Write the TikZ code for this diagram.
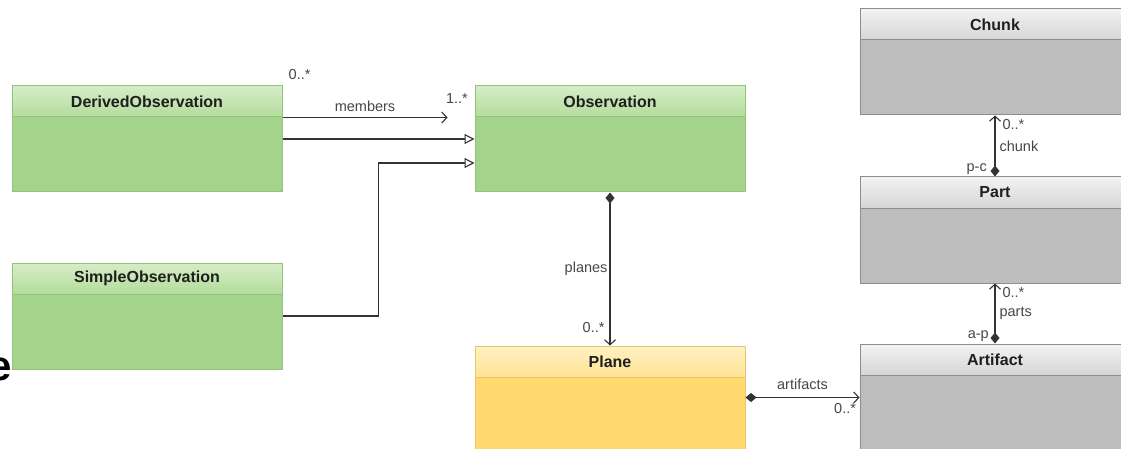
\documentclass[tikz,border=0pt]{standalone}
\usepackage{fontspec}
\setmainfont{Liberation Sans}
\usepackage{xcolor}
\definecolor{OBSBODY}{HTML}{A4D48B}
\definecolor{OBSTOP}{HTML}{D6EDC7}
\definecolor{OBSBOTTOM}{HTML}{B3DC9C}
\definecolor{OBSLINE}{HTML}{93C27C}
\definecolor{PLANEBODY}{HTML}{FFD970}
\definecolor{PLANETOP}{HTML}{FFF1C4}
\definecolor{PLANEBOTTOM}{HTML}{FFE394}
\definecolor{PLANELINE}{HTML}{E6C66C}
\definecolor{ARTBODY}{HTML}{BEBEBE}
\definecolor{ARTTOP}{HTML}{F3F3F3}
\definecolor{ARTBOTTOM}{HTML}{D5D5D5}
\definecolor{ARTLINE}{HTML}{8E8E8E}
\usepackage{tikz}
\usetikzlibrary{arrows.meta,positioning,calc}
\tikzset{
  class-style/.style = {
    rectangle, draw=#1LINE, fill=#1BODY, line width=1pt,
    minimum width=270pt,
    minimum height=106pt,
    inner sep=0pt
  },
  head-style/.style = {
    rectangle, draw=#1LINE, line width=1pt,
    top color=#1TOP, bottom color=#1BOTTOM,
    anchor=north,
    minimum width=270pt,
    minimum height=31pt,
    inner sep=0pt,
    text=black!88
  },
  link-style/.style = {
    draw=black!80, line width=1.1pt
  },
  assoc-style/.style = {
    link-style, -{Straight Barb[length=5pt,width=11pt]}
  },
  gen-style/.style = {
    link-style, -{Triangle[open,length=10pt,width=10pt,fill=white]}
  },
  comp-style/.style = {
    link-style, {Diamond[length=11pt,width=9pt]}-{Straight Barb[length=5pt,width=11pt]}
  },
  label-style/.style = {
    text=black!72, inner sep=1pt,
    font=\fontsize{14.5}{17}\selectfont
  }
}
\newcommand\className[1]{\fontsize{16}{19}\selectfont\bfseries #1}
\def\createClass name:#1 display:#2 color:#3 place:#4;{
  \node [class-style=#3, #4] (#1) {};
  \node [head-style=#3] (#1-head) at (#1.north) {\className{#2}};
}

\begin{document}
\begin{tikzpicture}[x=1pt, y=-1pt]
  \useasboundingbox (0,0) rectangle (1121,449);
  \clip (0,0) rectangle (1121,449);
  \fill[white] (0,0) rectangle (1121,449);

  \node[font=\fontsize{42}{42}\selectfont\bfseries, inner sep=0pt] (cut-e) at (0,369) {e};

  \createClass name:derived display:DerivedObservation color:OBS place:{at={(147,139)}};
  \createClass name:simple display:SimpleObservation color:OBS place:below=70pt of derived;
  \createClass name:obs display:Observation color:OBS place:right=192pt of derived;
  \createClass name:plane display:Plane color:PLANE place:{below=153pt of obs, minimum height=125pt};
  \createClass name:chunk display:Chunk color:ART place:{at={(995,62)}};
  \createClass name:part display:Part color:ART place:below=61pt of chunk;
  \createClass name:artifact display:Artifact color:ART place:{below=60pt of part, minimum height=125pt};

  % members
  \coordinate (members-end) at ([xshift=-27pt]obs-head.south west);
  \draw[assoc-style] (derived-head.south east) -- (members-end)
    node[label-style, midway, above=4pt] (members-label) {members}
    node[label-style, at end, anchor=south west, xshift=-3pt, yshift=12pt] (members-to) {1..*};
  \node[label-style, anchor=south west] (members-from) at ([xshift=5pt,yshift=5pt]derived.north east) {0..*};

  % generalisation
  \coordinate (simple-in) at ([yshift=-24pt]obs.west);
  \draw[gen-style] (derived.east) -- (obs.west);
  \draw[gen-style] (simple.east) -- ++(96,0) |- (simple-in);

  % planes
  \draw[comp-style] (obs.south) -- (plane.north)
    node[label-style, midway, left=1pt] (planes-label) {planes}
    node[label-style, at end, anchor=south east, xshift=-4pt, yshift=11pt] (planes-to) {0..*};

  % artifacts
  \draw[comp-style] (plane.west |- plane-head.south) ++(0,20) coordinate (plane-out)
    (plane-out -| plane.east) -- (plane-out -| artifact.west)
    node[label-style, midway, above=6pt] (artifacts-label) {artifacts}
    node[label-style, at end, anchor=north east, xshift=-2pt, yshift=-4pt] (artifacts-to) {0..*};

  % chunk
  \draw[comp-style] (part.north) -- (chunk.south)
    node[label-style, midway, right=3pt] (chunk-label) {chunk}
    node[label-style, at end, anchor=north west, xshift=6pt, yshift=-2pt] (chunk-to) {0..*};
  \node[label-style, anchor=south east] (chunk-from) at ([xshift=-7pt,yshift=1pt]part.north) {p-c};

  % parts
  \draw[comp-style] (artifact.north) -- (part.south)
    node[label-style, midway, right=3pt] (parts-label) {parts}
    node[label-style, at end, anchor=north west, xshift=6pt, yshift=-2pt] (parts-to) {0..*};
  \node[label-style, anchor=south east] (parts-from) at ([xshift=-5pt,yshift=1pt]artifact.north) {a-p};
\end{tikzpicture}
\end{document}
